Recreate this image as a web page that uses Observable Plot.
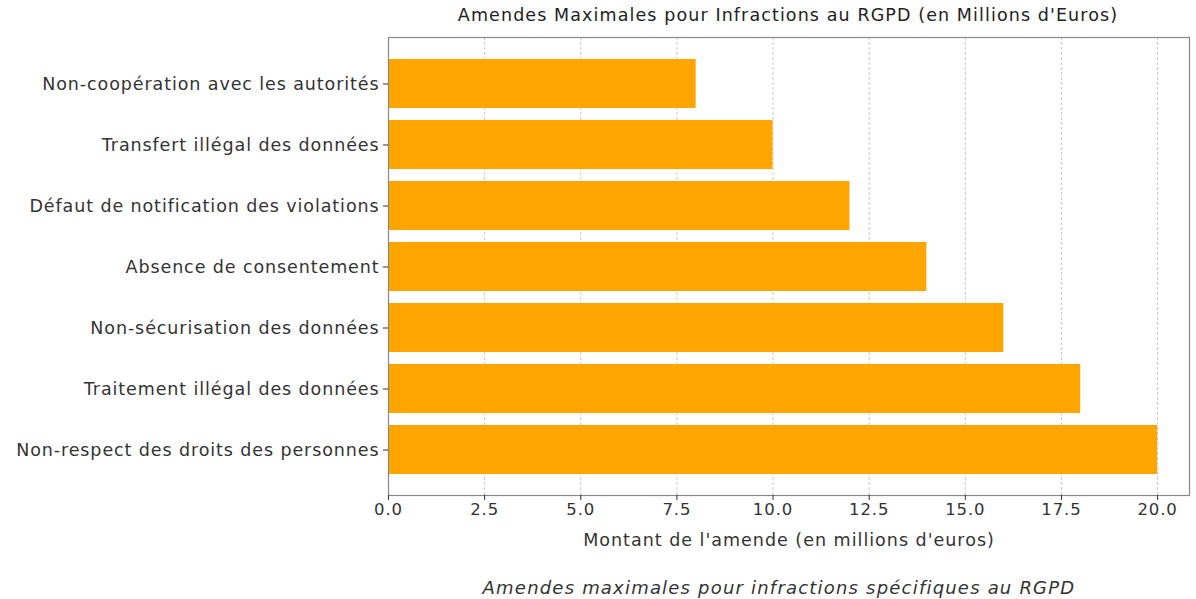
<!DOCTYPE html>
<html>
<head>
<meta charset="utf-8">
<script src="https://cdn.jsdelivr.net/npm/d3@7"></script>
<script src="https://cdn.jsdelivr.net/npm/@observablehq/plot@0.6"></script>
<style>
  body { margin: 0; background: #fff; font-family: "DejaVu Sans", sans-serif; }
  #wrap { width: 1196px; height: 599px; position: relative; overflow: hidden; }
  #chart { position: absolute; left: 0; top: 0; }
  #title { position: absolute; left: 288px; width: 1000px; top: 5px; text-align: center; font-size: 17.5px; letter-spacing: 1.1px; color: #222; z-index: 2; }
  #caption { position: absolute; left: 279px; width: 1000px; top: 577px; text-align: center; font-size: 18px; letter-spacing: 1.2px; font-style: italic; color: #333; z-index: 2; }
  svg text { letter-spacing: 0.9px; }
</style>
</head>
<body>
<div id="wrap">
  <div id="chart"></div>
  <div id="title">Amendes Maximales pour Infractions au RGPD (en Millions d'Euros)</div>
  <div id="caption">Amendes maximales pour infractions spécifiques au RGPD</div>
</div>
<script>
const categories = [
  "Non-coopération avec les autorités",
  "Transfert illégal des données",
  "Défaut de notification des violations",
  "Absence de consentement",
  "Non-sécurisation des données",
  "Traitement illégal des données",
  "Non-respect des droits des personnes"
];
const values = [8, 10, 12, 14, 16, 18, 20];
const xTicks = [0, 2.5, 5, 7.5, 10, 12.5, 15, 17.5, 20];

const data = categories.map((c, i) => ({cat: c, value: values[i]}));

const chart = Plot.plot({
  width: 1196,
  height: 565,
  marginLeft: 388,
  marginRight: 7,
  marginTop: 37,
  marginBottom: 70,
  style: {fontFamily: "DejaVu Sans, sans-serif", fontSize: "17px", color: "#333"},
  x: {domain: [0, 20.83]},
  y: {domain: categories, paddingInner: 0.2, paddingOuter: 0.335},
  marks: [
    Plot.gridX(xTicks, {stroke: "#bbb", strokeOpacity: 1, strokeDasharray: "3,2", strokeWidth: 0.8}),
    Plot.barX(data, {x: "value", y: "cat", fill: "#FFA500"}),
    Plot.frame({stroke: "#888", strokeWidth: 1.2}),
    Plot.axisX({ticks: xTicks, tickFormat: d => d.toFixed(1), tickSize: 5, tickPadding: 3, fontSize: 16.5,
      label: "Montant de l'amende (en millions d'euros)", labelAnchor: "center", labelArrow: "none", labelOffset: 50}),
    Plot.axisY({tickSize: 5, tickPadding: 4, fontSize: 17.5, label: null})
  ]
});
document.getElementById("chart").appendChild(chart);
// slightly larger axis label
chart.querySelectorAll("g[aria-label='x-axis label'] text").forEach(t => { t.style.fontSize = "17.5px"; t.style.letterSpacing = "1px"; });
</script>
</body>
</html>
